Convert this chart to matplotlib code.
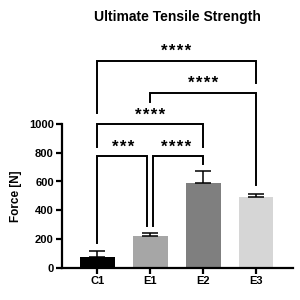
import matplotlib as mpl
mpl.use('agg')
import matplotlib.pyplot as plt
import numpy as np

plt.rcParams['font.family'] = ['Liberation Sans', 'DejaVu Sans']

groups = ['C1', 'E1', 'E2', 'E3']
means = [75, 224, 588, 491]
errs = [45, 17, 83, 21]
colors = ['#000000', '#a6a6a6', '#7f7f7f', '#d6d6d6']

# significance brackets: (left, right, height, left leg bottom, right leg bottom, label)
brackets = [
    (0, 1, 778, 171, 292, '***'),
    (1, 2, 778, 292, 722, '****'),
    (0, 2, 998, 838, 838, '****'),
    (1, 3, 1217, 1155, 575, '****'),
    (0, 3, 1440, 1078, 1287, '****'),
]
# small sideways shift so two legs on the same bar do not overlap
leg_shift = {(0, 1): (0, -0.05), (1, 2): (0.05, 0)}

fig = plt.figure(figsize=(3, 3), dpi=100)
ax = fig.add_axes([0.207, 0.107, 0.77, 0.48])

x = np.arange(len(groups))
ax.bar(x, means, width=0.66, color=colors, zorder=2)
ax.errorbar(x, means, yerr=[np.zeros(len(errs)), errs], fmt='none',
            ecolor='black', elinewidth=1.1, capsize=6, capthick=1.1, zorder=3)

for a, b, h, lb, rb, lab in brackets:
    sa, sb = leg_shift.get((a, b), (0, 0))
    xa, xb = a + sa, b + sb
    ax.plot([xa, xa, xb, xb], [lb, h, h, rb], color='black', lw=1.4,
            clip_on=False, zorder=4, solid_joinstyle='miter')
    ax.text((a + b) / 2, h + 30, '\u200a'.join(lab), ha='center', va='baseline',
            fontsize=12, fontweight='bold', clip_on=False)

ax.set_xlim(-0.66, 3.7)
ax.set_ylim(0, 1000)
ax.set_yticks([0, 200, 400, 600, 800, 1000])
ax.set_xticks(x)
ax.set_xticklabels(groups, fontweight='bold', fontsize=8)
for t in ax.get_yticklabels():
    t.set_fontweight('bold')
    t.set_fontsize(8)
ax.set_ylabel('Force [N]', fontweight='bold', fontsize=8.5, labelpad=5)

for s in ['top', 'right']:
    ax.spines[s].set_visible(False)
for s in ['left', 'bottom']:
    ax.spines[s].set_linewidth(1.6)
ax.tick_params(width=1.6, length=4, pad=2)

fig.text(0.59, 0.943, 'Ultimate Tensile Strength', ha='center', va='center',
         fontweight='bold', fontsize=10)

fig.savefig('out.png', dpi=100)
